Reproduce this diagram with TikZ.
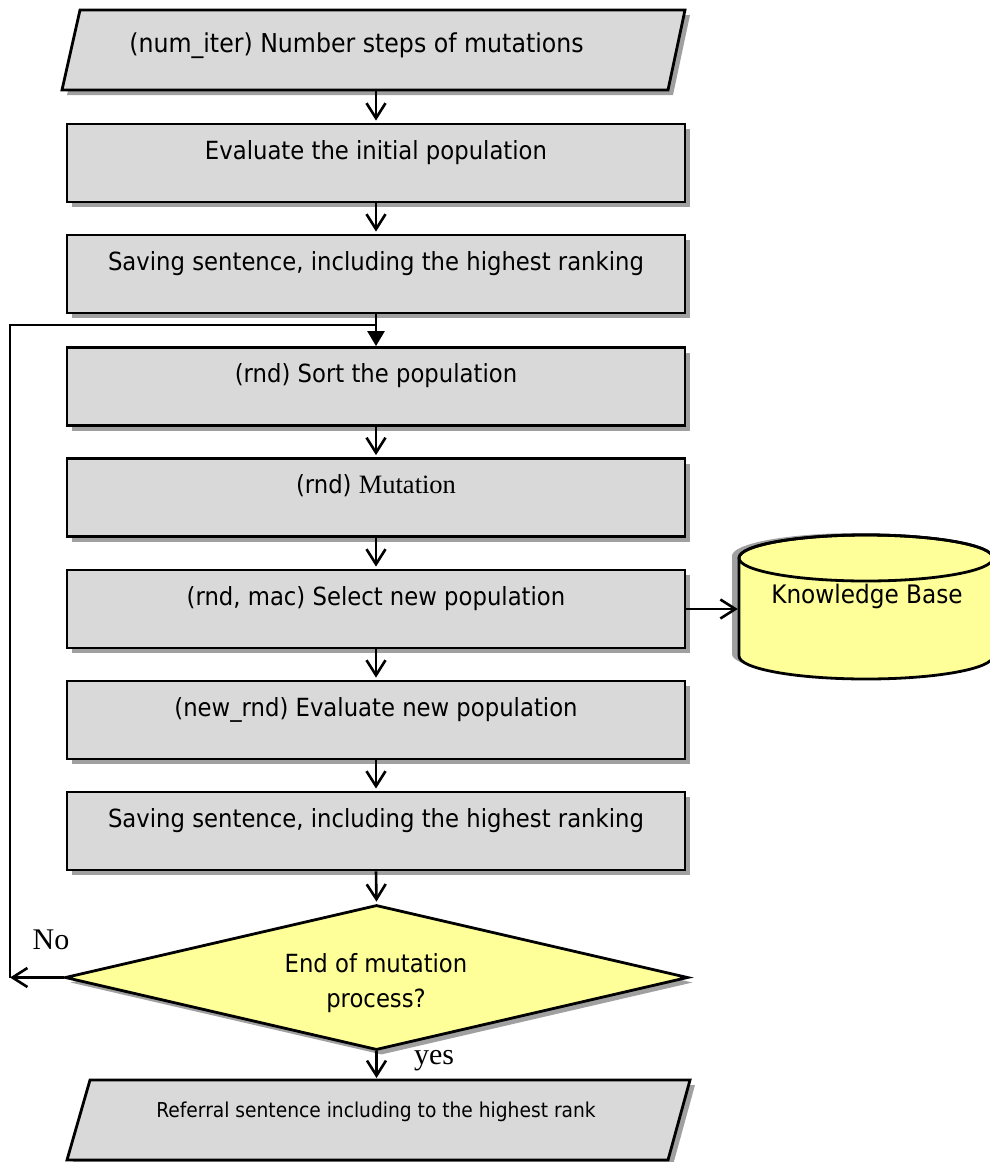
\documentclass[tikz,border=0pt]{standalone}
\usepackage{fontspec}
\setmainfont{DejaVu Sans}[FakeStretch=0.91]
\newfontfamily\serifk{Liberation Serif}
\usetikzlibrary{shapes.geometric,arrows.meta,shadows}
\definecolor{boxgray}{RGB}{217,217,217}
\definecolor{kbyellow}{RGB}{255,255,153}
\definecolor{shadowgray}{RGB}{160,160,160}
\tikzset{
  boxshadow/.style={general shadow={draw=none, fill=shadowgray, shadow xshift=5pt, shadow yshift=-5pt}},
  stepbox/.style={draw, line width=2.8pt, fill=boxgray, minimum width=618pt, minimum height=78pt,
    inner sep=0pt, text height=19pt, text depth=27pt, font=\fontsize{25}{30}\selectfont, boxshadow},
  parashape/.style={draw, line width=2.8pt, fill=boxgray},
  parashadow/.style={fill=shadowgray, shift={(5,5)}},
  decision/.style={diamond, draw, line width=2.8pt, fill=kbyellow, minimum width=623pt,
    minimum height=145pt, inner sep=0pt, boxshadow},
  txt/.style={font=\fontsize{25}{35}\selectfont, align=center, inner sep=0pt},
  lbl/.style={font=\serifk\fontsize{30}{34}\selectfont, inner sep=0pt},
  arr/.style={line width=2.6pt, shorten >=2pt, -{Straight Barb[length=15pt,width=19pt]}},
  mergearr/.style={line width=2.6pt, -{Triangle[length=15pt,width=17pt]}},
  flow/.style={line width=2.6pt}
}
\begin{document}
\begin{tikzpicture}[x=1pt,y=-1pt]
\useasboundingbox (0,0) rectangle (989,1162);

% input parallelogram
\path[parashadow] (80,10) -- (685,10) -- (668,90) -- (62,90) -- cycle;
\draw[parashape] (80,10) -- (685,10) -- (668,90) -- (62,90) -- cycle;
\node[txt, font=\fontsize{26}{30}\selectfont] (p1t) at (356.5,46) {(num\_iter) Number steps of mutations};
\coordinate (p1b) at (375,90);

% process boxes
\node[stepbox] (b1) at (376,163) {Evaluate the initial population};
\node[stepbox] (b2) at (376,274) {Saving sentence, including the highest ranking};
\node[stepbox] (b3) at (376,386.5) {(rnd) Sort the population};
\node[stepbox] (b4) at (376,497.5) {(rnd) {\serifk\fontsize{26.5}{30}\selectfont Mutation}};
\node[stepbox] (b5) at (376,609) {(rnd, mac) Select new population};
\node[stepbox] (b6) at (376,720) {(new\_rnd) Evaluate new population};
\node[stepbox] (b7) at (376,831) {Saving sentence, including the highest ranking};

% decision
\node[decision] (dec) at (376.5,977.5) {};
\node[txt] (dect) at (376,983) {End of mutation\\process?};

% output parallelogram
\path[parashadow] (90,1080) -- (690,1080) -- (668,1160) -- (67,1160) -- cycle;
\draw[parashape] (90,1080) -- (690,1080) -- (668,1160) -- (67,1160) -- cycle;
\node[txt, font=\fontsize{20.5}{24}\selectfont] (p2t) at (376,1112) {Referral sentence including to the highest rank};
\coordinate (p2top) at (376.5,1080);

% knowledge base cylinder
\path[fill=shadowgray, shift={(-7,-2)}] (739,558) -- (739,656)
  arc[start angle=180, end angle=360, x radius=127pt, y radius=23pt] -- (993,558)
  arc[start angle=0, end angle=180, x radius=127pt, y radius=23pt] -- cycle;
\draw[line width=2.8pt, fill=kbyellow] (739,558) -- (739,656)
  arc[start angle=180, end angle=360, x radius=127pt, y radius=23pt] -- (993,558)
  arc[start angle=0, end angle=180, x radius=127pt, y radius=23pt] -- cycle;
\draw[line width=2.8pt] (866,558) ellipse [x radius=127pt, y radius=23pt];
\node[minimum width=254pt, minimum height=144pt, inner sep=0pt, text height=19pt, text depth=27pt,
  font=\fontsize{25.5}{30}\selectfont] (kb) at (867,607) {Knowledge Base};

% labels
\node[lbl] (no) at (51,940) {No};
\node[lbl] (yes) at (434,1061) {yes};

% loop coordinates
\coordinate (lq) at (10,325);
\coordinate (lj) at (b3.north |- lq);
\coordinate (lp) at (dec.west -| lq);

% connectors
\draw[arr] (p1b -| b1.north) -- (b1.north);
\draw[arr] (b1.south) -- (b2.north);
\draw[flow] (b2.south) -- (lj);
\draw[mergearr] (lj) -- (b3.north);
\draw[arr] (b3.south) -- (b4.north);
\draw[arr] (b4.south) -- (b5.north);
\draw[arr] (b5.south) -- (b6.north);
\draw[arr] (b6.south) -- (b7.north);
\draw[arr] (b7.south) -- (dec.north);
\draw[arr] (dec.south) -- (dec.south |- p2top);
\draw[arr] (b5.east) -- (b5.east -| kb.west);
\draw[arr, shorten >=0pt] (dec.west) -- (lp);
\draw[flow] (lp) -- (lq) -- (lj);
\end{tikzpicture}
\end{document}
